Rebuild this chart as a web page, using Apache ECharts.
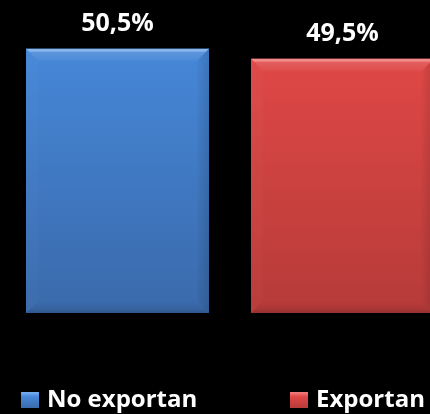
<!DOCTYPE html>
<html>
<head>
<meta charset="utf-8">
<script src="https://cdn.jsdelivr.net/npm/echarts@6/dist/echarts.min.js"></script>
<style>
  html, body { margin: 0; padding: 0; background: #000; }
  #chart { width: 430px; height: 414px; }
</style>
</head>
<body>
<div id="chart"></div>
<script>
// Share of companies: exporters vs non-exporters (%)
const categories = ['Empresas'];
const seriesNames = ['No exportan', 'Exportan'];
const noExportan = [50.5];
const exportan = [49.5];

// Axis range
const yMin = 24;
const yMax = 55;

// Fill colours per series: [top highlight, body top, body bottom]
const palettes = [
  { hi: '#79b2f2', top: '#4687d8', bottom: '#3a6aab' },
  { hi: '#f58080', top: '#df4846', bottom: '#b63b39' }
];

const FONT = '"Open Sans", "DejaVu Sans", sans-serif';

function fmt(v) {
  return v.toFixed(1).replace('.', ',') + '%';
}

function renderBar(params, api) {
  const idx = params.seriesIndex;
  const pal = palettes[idx];
  const val = api.value(1);
  const base = api.coord([api.value(0), yMin]);
  const top = api.coord([api.value(0), val]);
  const band = api.size([1, 0])[0];
  // bar width and gap as fractions of the category band; the second bar runs past the right edge
  const bw = band * 183 / 404;
  const gap = band * 42 / 404;
  const x0 = base[0] - band / 2 + idx * (bw + gap);
  const x1 = x0 + bw;
  const y0 = top[1];
  const y1 = base[1];
  const h = y1 - y0;
  const b = 12;
  return {
    type: 'group',
    children: [
      {
        type: 'rect',
        shape: { x: x0, y: y0, width: bw, height: h },
        style: {
          fill: new echarts.graphic.LinearGradient(0, 0, 0, 1, [
            { offset: 0, color: pal.top },
            { offset: 1, color: pal.bottom }
          ])
        }
      },
      {
        // top bevel
        type: 'polygon',
        shape: { points: [[x0, y0], [x1, y0], [x1 - b, y0 + b], [x0 + b, y0 + b]] },
        style: {
          fill: new echarts.graphic.LinearGradient(0, 0, 0, 1, [
            { offset: 0, color: pal.hi },
            { offset: 0.3, color: 'rgba(255,255,255,0.12)' },
            { offset: 1, color: 'rgba(255,255,255,0.04)' }
          ])
        }
      },
      {
        // bottom bevel
        type: 'polygon',
        shape: { points: [[x0 + b, y1 - b], [x1 - b, y1 - b], [x1, y1], [x0, y1]] },
        style: {
          fill: new echarts.graphic.LinearGradient(0, 0, 0, 1, [
            { offset: 0, color: 'rgba(0,0,0,0)' },
            { offset: 0.6, color: 'rgba(0,0,0,0.06)' },
            { offset: 1, color: 'rgba(0,0,0,0.18)' }
          ])
        }
      },
      {
        // left bevel
        type: 'polygon',
        shape: { points: [[x0, y0], [x0 + b, y0 + b], [x0 + b, y1 - b], [x0, y1]] },
        style: { fill: 'rgba(255,255,255,0.02)' }
      },
      {
        // right bevel, darkening toward the edge
        type: 'polygon',
        shape: { points: [[x1, y0], [x1, y1], [x1 - b, y1 - b], [x1 - b, y0 + b]] },
        style: {
          fill: new echarts.graphic.LinearGradient(0, 0, 1, 0, [
            { offset: 0, color: 'rgba(0,0,0,0.02)' },
            { offset: 1, color: 'rgba(0,0,0,0.14)' }
          ])
        }
      },
      {
        type: 'text',
        style: {
          text: fmt(val),
          x: (x0 + x1) / 2,
          y: y0 - 12,
          align: 'center',
          verticalAlign: 'bottom',
          fill: '#ffffff',
          font: 'bold 25px ' + FONT
        }
      }
    ]
  };
}

const chart = echarts.init(document.getElementById('chart'), null, { renderer: 'canvas' });

const legendBase = {
  orient: 'horizontal',
  top: 388,
  padding: 0,
  icon: 'rect',
  itemWidth: 18,
  itemHeight: 16,
  textStyle: {
    color: '#ffffff',
    fontFamily: FONT,
    fontWeight: 'bold',
    fontSize: 24,
    padding: [0, 0, 0, 3]
  },
  selectedMode: false
};

chart.setOption({
  backgroundColor: '#000000',
  animation: false,
  legend: [
    Object.assign({}, legendBase, { left: 21, data: [seriesNames[0]] }),
    Object.assign({}, legendBase, { left: 290, data: [seriesNames[1]] })
  ],
  grid: { left: 26, right: 0, top: 4, bottom: 101, containLabel: false },
  xAxis: {
    type: 'category',
    data: categories,
    show: false
  },
  yAxis: {
    type: 'value',
    min: yMin,
    max: yMax,
    show: false
  },
  series: [
    {
      name: seriesNames[0],
      type: 'custom',
      renderItem: renderBar,
      itemStyle: {
        color: new echarts.graphic.LinearGradient(0, 0, 0, 1, [
          { offset: 0, color: palettes[0].hi },
          { offset: 0.3, color: palettes[0].top },
          { offset: 1, color: palettes[0].bottom }
        ])
      },
      data: categories.map((c, i) => [c, noExportan[i]])
    },
    {
      name: seriesNames[1],
      type: 'custom',
      renderItem: renderBar,
      itemStyle: {
        color: new echarts.graphic.LinearGradient(0, 0, 0, 1, [
          { offset: 0, color: palettes[1].hi },
          { offset: 0.3, color: palettes[1].top },
          { offset: 1, color: palettes[1].bottom }
        ])
      },
      data: categories.map((c, i) => [c, exportan[i]])
    }
  ]
});
</script>
</body>
</html>
